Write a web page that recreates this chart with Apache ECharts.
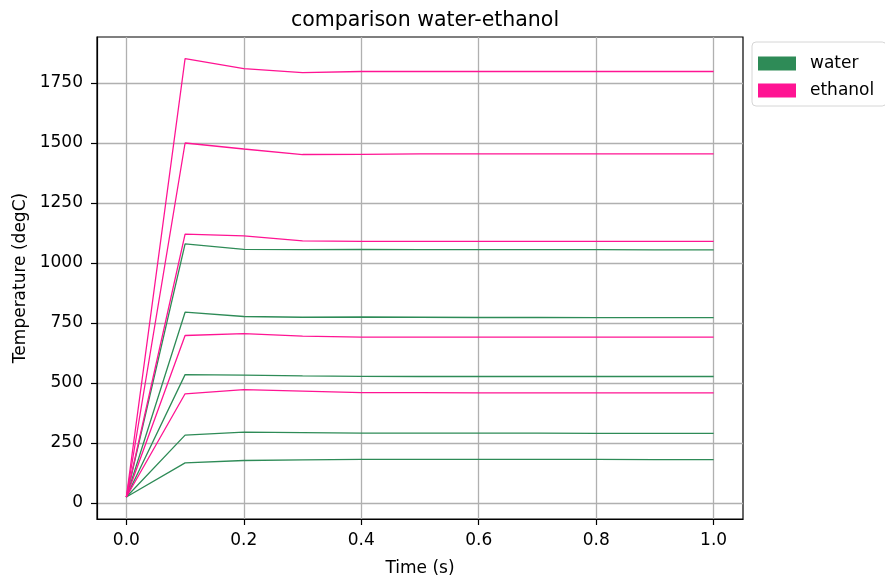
<!DOCTYPE html>
<html><head><meta charset="utf-8">
<script src="https://cdn.jsdelivr.net/npm/echarts@6/dist/echarts.min.js"></script>
<style>html,body{margin:0;padding:0;background:#fff}#c{width:885px;height:578px}</style>
</head><body><div id="c"></div>
<script>
const time = [0, 0.1, 0.2, 0.3, 0.4, 0.5, 0.6, 0.7, 0.8, 0.9, 1.0];
const water1 = [25, 167, 177, 180, 182, 182, 182, 182, 182, 181, 181];
const water2 = [25, 283, 295, 293, 291, 291, 291, 291, 290, 290, 290];
const water3 = [25, 535, 533, 530, 528, 527, 527, 527, 527, 527, 527];
const water4 = [25, 795, 777, 774, 775, 774, 773, 773, 772, 772, 772];
const water5 = [25, 1080, 1057, 1056, 1057, 1056, 1056, 1056, 1056, 1055, 1055];
const ethanol1 = [25, 455, 472, 466, 460, 460, 459, 459, 459, 459, 459];
const ethanol2 = [25, 698, 706, 695, 691, 691, 691, 691, 691, 691, 691];
const ethanol3 = [25, 1120, 1113, 1092, 1090, 1090, 1090, 1090, 1090, 1090, 1090];
const ethanol4 = [25, 1500, 1475, 1452, 1453, 1455, 1455, 1455, 1455, 1455, 1455];
const ethanol5 = [25, 1852, 1810, 1793, 1798, 1798, 1798, 1798, 1798, 1798, 1798];
const xTicks = [0, 0.2, 0.4, 0.6, 0.8, 1.0];
const yTicks = [0, 250, 500, 750, 1000, 1250, 1500, 1750];

const waterSeries = [water1, water2, water3, water4, water5];
const ethanolSeries = [ethanol1, ethanol2, ethanol3, ethanol4, ethanol5];
const WATER = '#2e8b57', ETH = '#ff1493';
function mk(name, arr, color) {
  return {
    name: name, type: 'line', data: time.map((t, i) => [t, arr[i]]),
    showSymbol: false, symbol: 'none', color: color,
    lineStyle: { color: color, width: 1.3 }, animation: false
  };
}
const series = [];
waterSeries.forEach(a => series.push(mk('water', a, WATER)));
ethanolSeries.forEach(a => series.push(mk('ethanol', a, ETH)));

const font = 'DejaVu Sans';
const chart = echarts.init(document.getElementById('c'), null, { renderer: 'canvas' });
chart.setOption({
  animation: false,
  backgroundColor: '#fff',
  title: {
    text: 'comparison water-ethanol', left: 420, top: 5, textAlign: 'center',
    textStyle: { fontFamily: font, fontSize: 20.5, fontWeight: 'normal', color: '#000' }
  },
  grid: { left: 97, right: 142, top: 37, bottom: 59, show: true, borderColor: '#000', borderWidth: 1.2,
    containLabel: false, outerBoundsMode: 'none' },
  legend: {
    orient: 'vertical', left: 752, top: 42,
    padding: [13, 12, 7, 6], itemGap: 10,
    itemWidth: 38, itemHeight: 14, icon: 'rect',
    backgroundColor: '#fff', borderColor: '#d6d6d6', borderWidth: 1, borderRadius: 4,
    textStyle: { fontFamily: font, fontSize: 17, color: '#000', padding: [0, 0, 0, 9] },
    data: [{ name: 'water', itemStyle: { color: WATER } }, { name: 'ethanol', itemStyle: { color: ETH } }]
  },
  xAxis: {
    type: 'value', min: -0.05, max: 1.05,
    name: 'Time (s)', nameLocation: 'middle', nameGap: 41,
    nameTextStyle: { fontFamily: font, fontSize: 17, color: '#000' },
    axisLine: { show: true, onZero: false, lineStyle: { color: '#000', width: 1.2 } },
    axisTick: { show: true, inside: false, length: 6, lineStyle: { color: '#000', width: 1.2 }, customValues: xTicks },
    axisLabel: { fontFamily: font, fontSize: 17, color: '#000', margin: 13, customValues: xTicks,
      formatter: v => v.toFixed(1) },
    splitLine: { show: true, lineStyle: { color: '#b0b0b0', width: 1.3 } }
  },
  yAxis: {
    type: 'value', min: -66.7, max: 1941.7,
    name: 'Temperature (degC)', nameLocation: 'middle', nameGap: 68, nameRotate: 90,
    nameTextStyle: { fontFamily: font, fontSize: 17, color: '#000' },
    axisLine: { show: true, onZero: false, lineStyle: { color: '#000', width: 1.2 } },
    axisTick: { show: true, inside: false, length: 6, lineStyle: { color: '#000', width: 1.2 }, customValues: yTicks },
    axisLabel: { fontFamily: font, fontSize: 17, color: '#000', margin: 14, customValues: yTicks,
      formatter: v => String(Math.round(v)) },
    splitLine: { show: true, lineStyle: { color: '#b0b0b0', width: 1.3 } }
  },
  series: series
});
</script></body></html>
